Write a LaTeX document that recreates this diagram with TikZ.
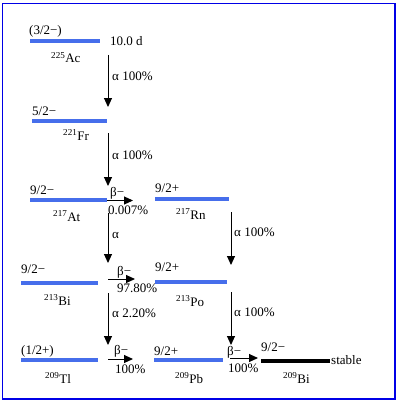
\documentclass[tikz,border=0pt]{standalone}
\usepackage{fontspec}
\setmainfont{Liberation Serif}
\usetikzlibrary{arrows.meta}
\definecolor{lvlblue}{RGB}{70,110,235}
\definecolor{frameblue}{RGB}{0,0,230}
\begin{document}
\begin{tikzpicture}[x=1pt,y=-1pt,
  lvl/.style={line width=3.5pt, lvlblue},
  gslvl/.style={line width=4pt, black},
  decay/.style={line width=1pt, -{Triangle[width=8pt,length=9pt]}},
  txt/.style={font=\fontsize{13}{15}\selectfont, inner sep=0pt, anchor=west},
  nuc/.style={font=\fontsize{13}{15}\selectfont, inner sep=0pt, anchor=base west},
  ]
\useasboundingbox (0,0) rectangle (398,404);
\draw[frameblue, line width=1.5pt] (2.5,3.5) rectangle (395,399);

% levels
\draw[lvl] (30,41) coordinate (ac1) -- (100,41) coordinate (ac2);
\draw[lvl] (32,121) coordinate (fr1) -- (107,121) coordinate (fr2);
\draw[lvl] (30,200) coordinate (at1) -- (107,200) coordinate (at2);
\draw[lvl] (155,199) coordinate (rn1) -- (229,199) coordinate (rn2);
\draw[lvl] (21,283) coordinate (bi1) -- (98,283) coordinate (bi2);
\draw[lvl] (155,282) coordinate (po1) -- (227,282) coordinate (po2);
\draw[lvl] (21,360) coordinate (tl1) -- (98,360) coordinate (tl2);
\draw[lvl] (154,360) coordinate (pb1) -- (223,360) coordinate (pb2);
\draw[gslvl] (261,361) coordinate (bz1) -- (330,361) coordinate (bz2);

% spin labels
\node[txt] (sac) at (29,31) {(3/2−)};
\node[txt] (sfr) at (32,111) {5/2−};
\node[txt] (sat) at (30,190) {9/2−};
\node[txt] (srn) at (155,188) {9/2+};
\node[txt] (sbi) at (21,269) {9/2−};
\node[txt] (spo) at (155,267) {9/2+};
\node[txt] (stl) at (21,351) {(1/2+)};
\node[txt] (spb) at (154,351) {9/2+};
\node[txt] (sbz) at (261,347) {9/2−};

% nuclide labels
\node[nuc] (nac) at (51,63) {\textsuperscript{225}Ac};
\node[nuc] (nfr) at (63,140) {\textsuperscript{221}Fr};
\node[nuc] (nat) at (53,221) {\textsuperscript{217}At};
\node[nuc] (nrn) at (176,219) {\textsuperscript{217}Rn};
\node[nuc] (nbi) at (44,305) {\textsuperscript{213}Bi};
\node[nuc] (npo) at (176,306) {\textsuperscript{213}Po};
\node[nuc] (ntl) at (45,383) {\textsuperscript{209}Tl};
\node[nuc] (npb) at (175,383) {\textsuperscript{209}Pb};
\node[nuc] (nbz) at (283,383) {\textsuperscript{209}Bi};

\node[txt] (half) at (110,41) {10.0 d};
\node[txt] (stable) at (331,360) {stable};

% alpha decays
\coordinate (a1s) at (108,55);  \coordinate (a1e) at (108,107);
\coordinate (a2s) at (108,133); \coordinate (a2e) at (108,186);
\coordinate (a3s) at (108,213); \coordinate (a3e) at (108,263);
\coordinate (a4s) at (108,293); \coordinate (a4e) at (108,345);
\coordinate (a5s) at (231,212); \coordinate (a5e) at (231,265);
\coordinate (a6s) at (231,292); \coordinate (a6e) at (231,345);
\draw[decay] (a1s) -- (a1e);
\draw[decay] (a2s) -- (a2e);
\draw[decay] (a3s) -- (a3e);
\draw[decay] (a4s) -- (a4e);
\draw[decay] (a5s) -- (a5e);
\draw[decay] (a6s) -- (a6e);
\node[txt] (la1) at (112,76) {α 100\%};
\node[txt] (la2) at (112,155) {α 100\%};
\node[txt] (la3) at (112,235) {α};
\node[txt] (la4) at (112,313) {α 2.20\%};
\node[txt] (la5) at (234,232) {α 100\%};
\node[txt] (la6) at (234,312) {α 100\%};

% beta decays
\coordinate (b1s) at (107,200.5); \coordinate (b1e) at (133,200.5);
\coordinate (b2s) at (108,279);   \coordinate (b2e) at (135,279);
\coordinate (b3s) at (108,359);   \coordinate (b3e) at (133,359);
\coordinate (b4s) at (230,358);   \coordinate (b4e) at (258,358);
\draw[decay] (b1s) -- (b1e);
\draw[decay] (b2s) -- (b2e);
\draw[decay] (b3s) -- (b3e);
\draw[decay] (b4s) -- (b4e);
\node[txt] (lb1) at (110,193) {β−};
\node[txt] (lb1p) at (108,210) {0.007\%};
\node[txt] (lb2) at (117,272) {β−};
\node[txt] (lb2p) at (117,288) {97.80\%};
\node[txt] (lb3) at (114,351) {β−};
\node[txt] (lb3p) at (115,369) {100\%};
\node[txt] (lb4) at (227,352) {β−};
\node[txt] (lb4p) at (228,368) {100\%};
\end{tikzpicture}
\end{document}
